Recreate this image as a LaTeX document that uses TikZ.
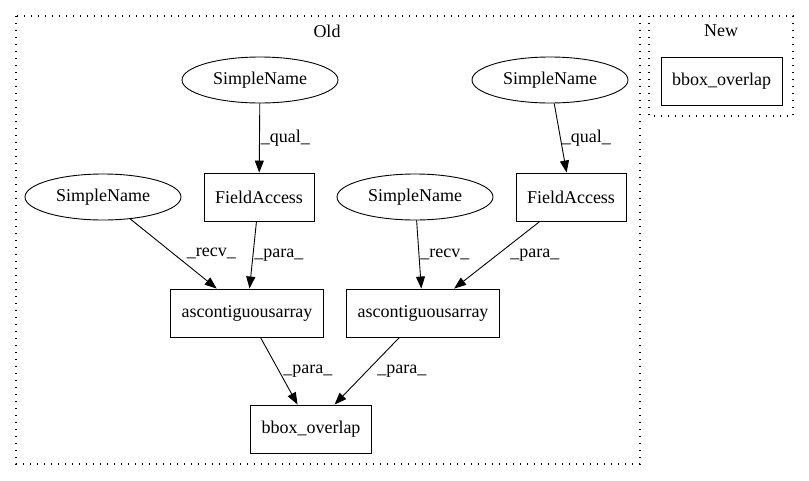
\documentclass[tikz,border=0pt]{standalone}
\usepackage{fontspec}
\setmainfont{Liberation Serif}
\usetikzlibrary{shapes.geometric, arrows.meta, positioning}

\begin{document}
\begin{tikzpicture}[x=1pt, y=-1pt, font=\fontsize{18}{20}\selectfont,
    every edge/.style={draw, line width=0.9pt, -{Triangle[length=12pt, width=9pt]}},
    sname/.style={ellipse, draw, line width=0.9pt, minimum width=156pt, minimum height=46pt, inner sep=0pt},
    op/.style={rectangle, draw, line width=0.9pt, minimum height=48pt, inner xsep=11pt},
    lbl/.style={right, inner sep=1pt},
    cluster/.style={draw, line width=1.4pt, dash pattern=on 1.4pt off 5.6pt}]
  \useasboundingbox (0,0) rectangle (809,480);

  % clusters
  \draw[cluster] (16,16) rectangle (640,464);
  \node (old) at (327,31) {Old};
  \draw[cluster] (649,16) rectangle (793,116);
  \node (new) at (721,31) {New};

  \node[sname] (sn1) at (260,80) {SimpleName};
  \node[sname] (sn2) at (550,80) {SimpleName};
  \node[sname] (sn3) at (103,197) {SimpleName};
  \node[op] (fa1) at (259,197) {FieldAccess};
  \node[sname] (sn4) at (415,197) {SimpleName};
  \node[op] (fa2) at (571,197) {FieldAccess};
  \node[op] (asc1) at (247,313) {ascontiguousarray};
  \node[op] (asc2) at (423,313) {ascontiguousarray};
  \node[op] (bb) at (311,429) {bbox\_overlap};
  \node[op] (bbnew) at (721.5,81) {bbox\_overlap};

  \path
    (sn1) edge node[lbl] {\_qual\_} (fa1)
    (sn2) edge node[lbl] {\_qual\_} (fa2)
    (sn3) edge node[lbl, xshift=12pt] {\_recv\_} (asc1)
    (fa1) edge node[lbl] {\_para\_} (asc1)
    (sn4) edge node[lbl] {\_recv\_} (asc2)
    (fa2) edge node[lbl, xshift=12pt] {\_para\_} (asc2)
    (asc1) edge node[lbl, xshift=3pt] {\_para\_} (bb)
    (asc2) edge node[lbl, xshift=9pt] {\_para\_} (bb);
\end{tikzpicture}
\end{document}
